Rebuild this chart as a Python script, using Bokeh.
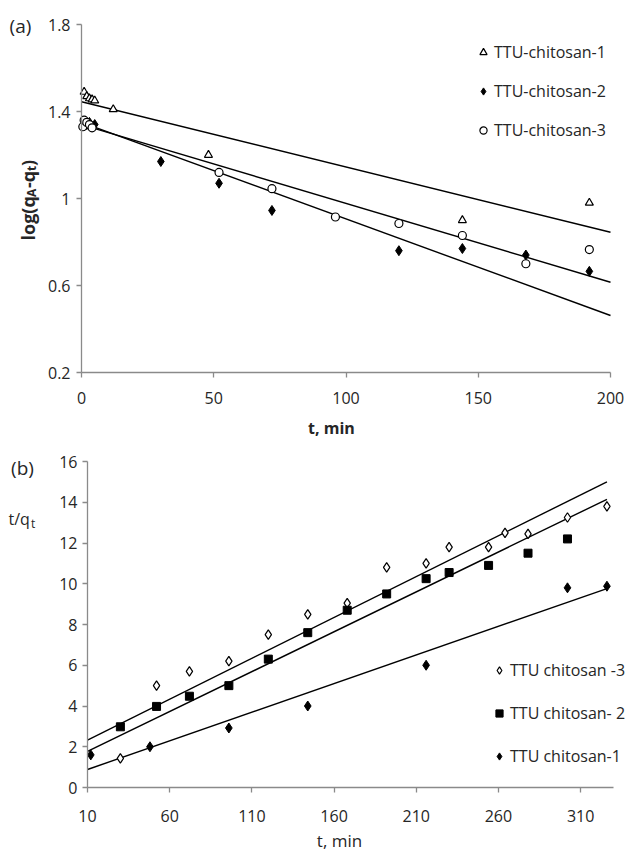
import numpy as np
from bokeh.plotting import figure
from bokeh.models import Range1d, FixedTicker, Label, Legend, LegendItem
from bokeh.layouts import column
from bokeh.embed import file_html
from bokeh.resources import INLINE

FONT = "Open Sans"
AXIS_GRAY = "#8a8a8a"
TEXT = "#262626"

# ---------------- data: panel (a) ----------------
a_t1 = [1, 2, 3, 4, 5, 12, 48, 144, 192]
a_y1 = [1.49, 1.47, 1.46, 1.455, 1.45, 1.41, 1.20, 0.90, 0.98]
a_t2 = [1, 2, 3, 4, 5, 30, 52, 72, 120, 144, 168, 192]
a_y2 = [1.35, 1.34, 1.35, 1.33, 1.34, 1.17, 1.07, 0.945, 0.76, 0.77, 0.74, 0.665]
a_t3 = [0.5, 1, 2, 3, 4, 52, 72, 96, 120, 144, 168, 192]
a_y3 = [1.33, 1.36, 1.35, 1.34, 1.325, 1.12, 1.045, 0.915, 0.885, 0.83, 0.70, 0.765]
a_labels = ["TTU-chitosan-1", "TTU-chitosan-2", "TTU-chitosan-3"]
# linear trend lines (intercept, slope)
a_fit_intercept = [1.445, 1.35, 1.34]
a_fit_slope = [-0.0030, -0.00444, -0.003625]
a_fit_range = [0, 200]
a_xticks = [0, 50, 100, 150, 200]
a_yticks = [0.2, 0.6, 1.0, 1.4, 1.8]
a_ytick_labels = ["0.2", "0.6", "1", "1.4", "1.8"]

# ---------------- data: panel (b) ----------------
b_t3 = [30, 52, 72, 96, 120, 144, 168, 192, 216, 230, 254, 264, 278, 302, 326]
b_y3 = [1.43, 5.0, 5.7, 6.2, 7.5, 8.5, 9.05, 10.8, 11.0, 11.8, 11.8, 12.5, 12.45, 13.25, 13.8]
b_t2 = [30, 52, 72, 96, 120, 144, 168, 192, 216, 230, 254, 278, 302]
b_y2 = [2.98, 3.98, 4.48, 5.0, 6.3, 7.6, 8.7, 9.5, 10.25, 10.55, 10.9, 11.5, 12.2]
b_t1 = [12, 48, 96, 144, 216, 302, 326]
b_y1 = [1.6, 2.0, 2.92, 4.0, 6.0, 9.8, 9.88]
b_labels = ["TTU chitosan -3", "TTU chitosan- 2", "TTU chitosan-1"]
b_fit_intercept = [1.93, 1.38, 0.604]
b_fit_slope = [0.0401, 0.03915, 0.02809]
b_fit_range = [10, 326]
b_xticks = [10, 60, 110, 160, 210, 260, 310]
b_yticks = [0, 2, 4, 6, 8, 10, 12, 14, 16]

# ---------------- layout geometry (page pixels) ----------------
W = 627
H1, H2 = 440, 411
TOP1 = 0
TOP2 = TOP1 + H1
LEFT = 0


def lin(v0, v1, p0, p1):
    k = (v1 - v0) / (p1 - p0)
    return lambda p: v0 + (p - p0) * k


# panel (a): axis t=0..200 at x 81..610, y 1.8..0.2 at y 24..372
aX = lin(0, 200, 81, 610)
aY = lin(1.8, 0.2, 24, 372)
# panel (b): axis t=10..330 at x 87..613, y 16..0 at y 461..787
bX = lin(10, 330, 87, 613)
bY = lin(16, 0, 461, 787)


def style(p):
    p.outline_line_color = None
    p.grid.visible = False
    p.background_fill_color = "white"
    p.border_fill_color = "white"
    for ax in p.axis:
        ax.axis_line_color = AXIS_GRAY
        ax.axis_line_width = 1.3
        ax.major_tick_line_color = AXIS_GRAY
        ax.major_tick_line_width = 1.3
        ax.major_tick_out = 5
        ax.major_tick_in = 0
        ax.minor_tick_line_color = None
        ax.major_label_text_font = FONT
        ax.major_label_text_font_size = "16px"
        ax.major_label_text_color = TEXT
        ax.axis_label = None


def lab(p, X, Y, px, py, text, size="16px", bold=False, align="center",
        baseline="middle", angle=0.0):
    p.add_layout(Label(x=X(px), y=Y(py), text=text, angle=angle, text_font=FONT,
                       text_font_size=size, text_font_style="bold" if bold else "normal",
                       text_color=TEXT, text_align=align, text_baseline=baseline))


# ---------------- figure (a) ----------------
p1 = figure(width=W, height=H1,
            x_range=Range1d(aX(LEFT), aX(LEFT + W)),
            y_range=Range1d(aY(TOP1 + H1), aY(TOP1)),
            output_backend="svg", toolbar_location=None,
            min_border_left=0, min_border_right=0, min_border_top=0, min_border_bottom=0)
style(p1)
p1.xaxis.ticker = FixedTicker(ticks=a_xticks)
p1.yaxis.ticker = FixedTicker(ticks=a_yticks)
p1.yaxis.major_label_overrides = {t: l for t, l in zip(a_yticks, a_ytick_labels)}
p1.xaxis.fixed_location = a_yticks[0]
p1.yaxis.fixed_location = a_xticks[0]
p1.xaxis.bounds = (a_xticks[0], a_xticks[-1])
p1.yaxis.bounds = (a_yticks[0], a_yticks[-1])
p1.xaxis.major_label_standoff = 14
p1.yaxis.major_label_standoff = 6

xs = np.array(a_fit_range, dtype=float)
for b0, b1 in zip(a_fit_intercept, a_fit_slope):
    p1.line(xs, b0 + b1 * xs, line_color="black", line_width=1.4)

r_a1 = p1.scatter(a_t1, a_y1, marker="triangle", size=8, fill_color="white",
                  line_color="black", line_width=1.2)
r_a2 = p1.scatter(a_t2, a_y2, marker="diamond", size=10, fill_color="black",
                  line_color="black", line_width=1)
r_a3 = p1.scatter(a_t3, a_y3, marker="circle", size=8, fill_color="white",
                  line_color="black", line_width=1.2)

leg1 = Legend(items=[LegendItem(label=a_labels[0], renderers=[r_a1]),
                     LegendItem(label=a_labels[1], renderers=[r_a2]),
                     LegendItem(label=a_labels[2], renderers=[r_a3])],
              location=(474, 299), orientation="vertical",
              glyph_width=18, glyph_height=18, label_height=20, spacing=17,
              padding=0, margin=0, border_line_color=None, background_fill_alpha=0,
              label_text_font=FONT, label_text_font_size="16px", label_text_color=TEXT,
              label_standoff=2)
p1.add_layout(leg1)

lab(p1, aX, aY, 20, 25, "(a)", size="19px")
lab(p1, aX, aY, 331, 427, "t, min", bold=True)
# rotated y label: log(q_A-q_t)
pieces = [("log(q", 240.0, 27, "18px"), ("A", 196.5, 31, "12px"), ("-q", 187.6, 27, "18px"),
          ("t", 170.6, 31, "12px"), (")", 165.4, 27, "18px")]
for txt, py, px, fs in pieces:
    lab(p1, aX, aY, px, py, txt, size=fs, bold=True, align="left",
        baseline="alphabetic", angle=np.pi / 2)

# ---------------- figure (b) ----------------
p2 = figure(width=W, height=H2,
            x_range=Range1d(bX(LEFT), bX(LEFT + W)),
            y_range=Range1d(bY(TOP2 + H2), bY(TOP2)),
            output_backend="svg", toolbar_location=None,
            min_border_left=0, min_border_right=0, min_border_top=0, min_border_bottom=0)
style(p2)
p2.xaxis.ticker = FixedTicker(ticks=b_xticks)
p2.yaxis.ticker = FixedTicker(ticks=b_yticks)
p2.xaxis.fixed_location = b_yticks[0]
p2.yaxis.fixed_location = b_xticks[0]
p2.xaxis.bounds = (b_xticks[0], 330)
p2.yaxis.bounds = (b_yticks[0], b_yticks[-1])
p2.xaxis.major_label_standoff = 17
p2.yaxis.major_label_standoff = 5

xb = np.array(b_fit_range, dtype=float)
for b0, b1 in zip(b_fit_intercept, b_fit_slope):
    p2.line(xb, b0 + b1 * xb, line_color="black", line_width=1.4)

r_b3 = p2.scatter(b_t3, b_y3, marker="diamond", size=9.5, fill_color="white",
                  line_color="black", line_width=1.2)
r_b2 = p2.scatter(b_t2, b_y2, marker="square", size=8, fill_color="black",
                  line_color="black", line_width=1)
r_b1 = p2.scatter(b_t1, b_y1, marker="diamond", size=10, fill_color="black",
                  line_color="black", line_width=1)

leg2 = Legend(items=[LegendItem(label=b_labels[0], renderers=[r_b3]),
                     LegendItem(label=b_labels[1], renderers=[r_b2]),
                     LegendItem(label=b_labels[2], renderers=[r_b1])],
              location=(490, 84), orientation="vertical",
              glyph_width=18, glyph_height=18, label_height=20, spacing=21,
              padding=0, margin=0, border_line_color=None, background_fill_alpha=0,
              label_text_font=FONT, label_text_font_size="16px", label_text_color=TEXT,
              label_standoff=2)
p2.add_layout(leg2)

lab(p2, bX, bY, 22, 467, "(b)", size="19px")
lab(p2, bX, bY, 339, 840, "t, min", size="17px")
lab(p2, bX, bY, 8, 518, "t/q", align="left", baseline="alphabetic")
lab(p2, bX, bY, 30.5, 523, "t", size="12px", align="left", baseline="alphabetic")

layout = column(p1, p2)
open("out.html", "w").write(file_html(layout, INLINE))
